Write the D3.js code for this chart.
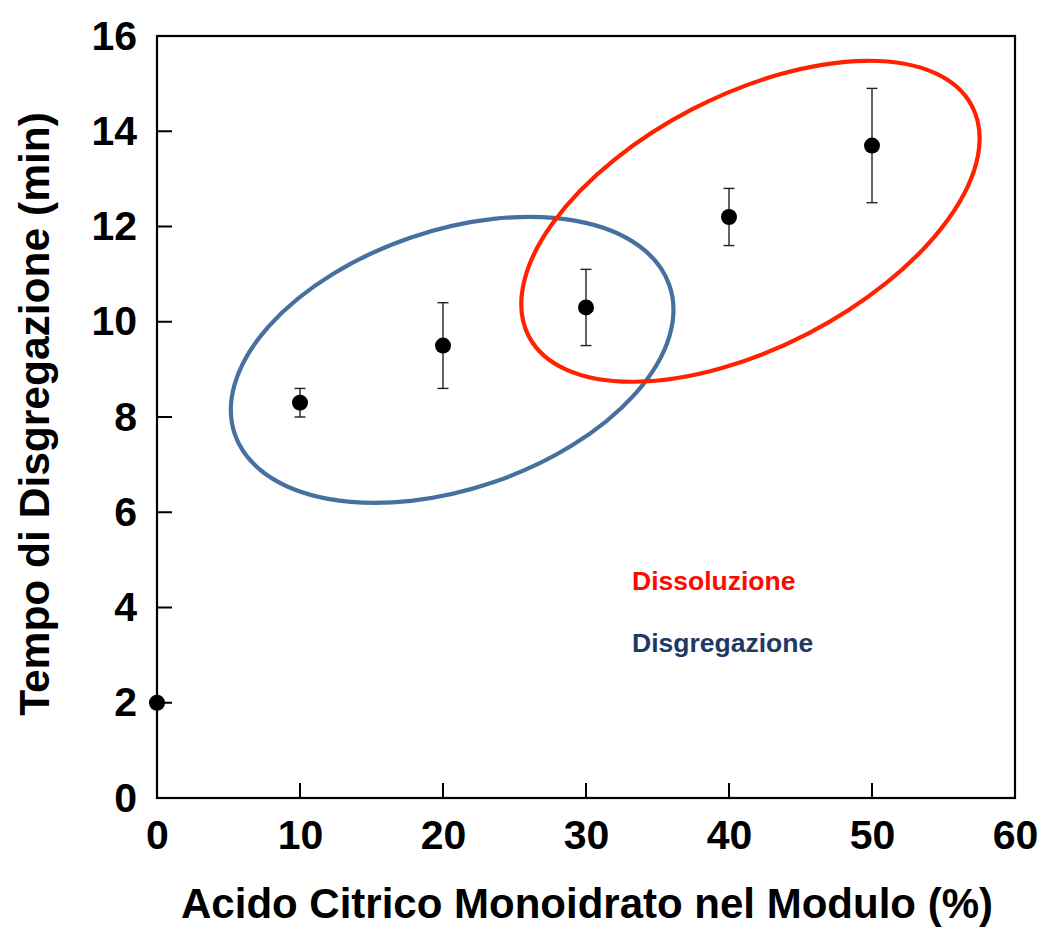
<!DOCTYPE html>
<html>
<head>
<meta charset="utf-8">
<script src="https://cdn.jsdelivr.net/npm/d3@7"></script>
<style>
  html, body { margin: 0; padding: 0; background: #fff; }
  svg { display: block; font-family: "Liberation Sans", Arial, sans-serif; }
</style>
</head>
<body>
<svg id="chart" width="1043" height="929"></svg>
<script>
// ---- data ----
const xValues = [0, 10, 20, 30, 40, 50];
const yValues = [2.0, 8.3, 9.5, 10.3, 12.2, 13.7];
const yLow    = [2.0, 8.0, 8.6, 9.5, 11.6, 12.5];
const yHigh   = [2.0, 8.6, 10.4, 11.1, 12.8, 14.9];
const xTicks = [0, 10, 20, 30, 40, 50, 60];
const yTicks = [0, 2, 4, 6, 8, 10, 12, 14, 16];
const xTitle = "Acido Citrico Monoidrato nel Modulo (%)";
const yTitle = "Tempo di Disgregazione (min)";
const legendLabels = ["Dissoluzione", "Disgregazione"];
const legendColors = ["#ff0a00", "#1f3864"];
// annotation ellipses: centre in data units
const ellipseNames = ["Disgregazione", "Dissoluzione"];
const ellipseCx = [20.64, 41.5];
const ellipseCy = [9.2, 12.11];

const W = 1043, H = 929;
const margin = {left: 157, right: 28, top: 36, bottom: 131};
const svg = d3.select("#chart");
const x = d3.scaleLinear().domain([0, 60]).range([margin.left, W - margin.right]);
const y = d3.scaleLinear().domain([0, 16]).range([H - margin.bottom, margin.top]);

// ellipses (drawn behind points)
const ellipseStyle = [
  {rx: 229.7, ry: 129.1, rot: -18.9, color: "#46709f"},
  {rx: 249.7, ry: 126.2, rot: -27.4, color: "#ff2200"}
];
ellipseNames.forEach((n, i) => {
  const s = ellipseStyle[i];
  svg.append("ellipse")
    .attr("cx", 0).attr("cy", 0)
    .attr("rx", s.rx).attr("ry", s.ry)
    .attr("transform", `translate(${x(ellipseCx[i])},${y(ellipseCy[i])}) rotate(${s.rot})`)
    .attr("fill", "none")
    .attr("stroke", s.color)
    .attr("stroke-width", 4.2);
});

// frame
svg.append("rect")
  .attr("x", x(0)).attr("y", y(16))
  .attr("width", x(60) - x(0)).attr("height", y(0) - y(16))
  .attr("fill", "none").attr("stroke", "#000").attr("stroke-width", 2.2);

// axes
const xAxis = d3.axisBottom(x).tickValues(xTicks).tickSizeInner(0).tickSizeOuter(0).tickPadding(22);
const gx = svg.append("g").attr("transform", `translate(0,${y(0)})`).call(xAxis);
gx.select(".domain").remove();
gx.selectAll("text").attr("font-size", 41).attr("font-weight", "bold").attr("fill", "#000")
  .attr("font-family", "Liberation Sans, Arial, sans-serif");

const yAxis = d3.axisLeft(y).tickValues(yTicks).tickSizeInner(0).tickSizeOuter(0).tickPadding(20);
const gy = svg.append("g").attr("transform", `translate(${x(0)},0)`).call(yAxis);
gy.select(".domain").remove();
gy.selectAll("text").attr("font-size", 41).attr("font-weight", "bold").attr("fill", "#000")
  .attr("font-family", "Liberation Sans, Arial, sans-serif");

// inward ticks
svg.append("g").selectAll("line").data(xTicks.filter(t => t > 0 && t < 60)).join("line")
  .attr("x1", d => x(d)).attr("x2", d => x(d))
  .attr("y1", y(0)).attr("y2", y(0) - 15)
  .attr("stroke", "#000").attr("stroke-width", 2);
svg.append("g").selectAll("line").data(yTicks.filter(t => t > 0 && t < 16)).join("line")
  .attr("x1", x(0)).attr("x2", x(0) + 15)
  .attr("y1", d => y(d)).attr("y2", d => y(d))
  .attr("stroke", "#000").attr("stroke-width", 2);

// error bars
const eb = svg.append("g");
xValues.forEach((xv, i) => {
  if (yHigh[i] === yLow[i]) return;
  eb.append("line").attr("x1", x(xv)).attr("x2", x(xv)).attr("y1", y(yLow[i])).attr("y2", y(yHigh[i]))
    .attr("stroke", "#222").attr("stroke-width", 1.4);
  [yLow[i], yHigh[i]].forEach(v => {
    eb.append("line").attr("x1", x(xv) - 5.5).attr("x2", x(xv) + 5.5).attr("y1", y(v)).attr("y2", y(v))
      .attr("stroke", "#222").attr("stroke-width", 1.4);
  });
});

// points
svg.append("g").selectAll("circle").data(xValues).join("circle")
  .attr("cx", d => x(d)).attr("cy", (d, i) => y(yValues[i])).attr("r", 8)
  .attr("fill", "#000");

// legend texts
legendLabels.forEach((t, i) => {
  svg.append("text").attr("x", 632).attr("y", 590 + i * 62)
    .attr("font-size", 26.5).attr("font-weight", "bold").attr("fill", legendColors[i])
    .text(t);
});

// axis titles
svg.append("text").attr("x", (x(0) + x(60)) / 2 + 1).attr("y", 918)
  .attr("text-anchor", "middle").attr("font-size", 42).attr("font-weight", "bold").attr("fill", "#000")
  .text(xTitle);
svg.append("text").attr("transform", `translate(49,${(y(0) + y(16)) / 2 - 3}) rotate(-90)`)
  .attr("text-anchor", "middle").attr("font-size", 42.5).attr("font-weight", "bold").attr("fill", "#000")
  .text(yTitle);
</script>
</body>
</html>
